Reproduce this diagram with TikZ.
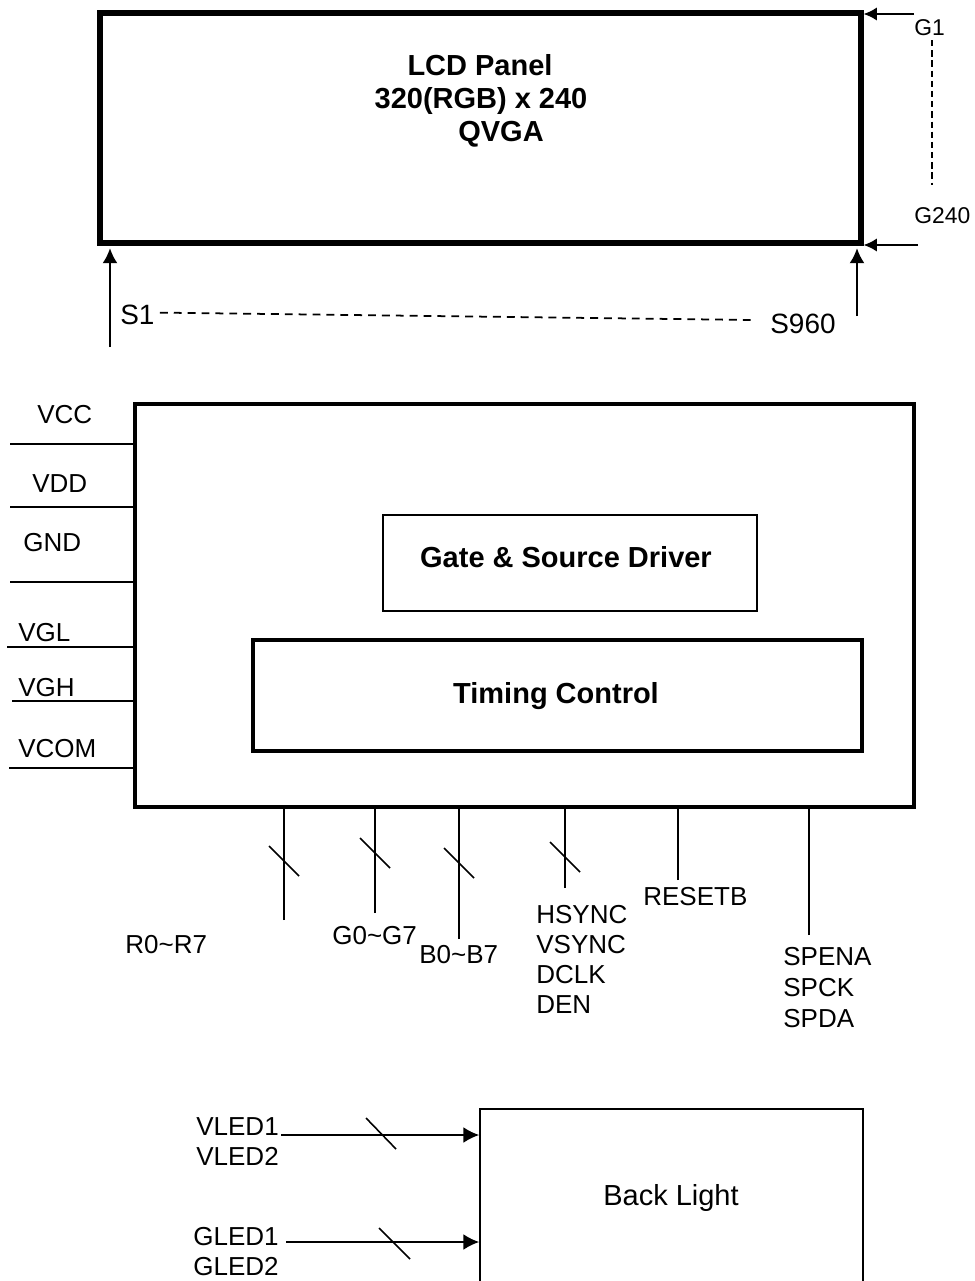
\documentclass[tikz,border=0pt]{standalone}
\usepackage{fontspec}
\setmainfont{Liberation Sans}
\usetikzlibrary{arrows.meta,positioning,fit,calc}

\begin{document}
\begin{tikzpicture}[x=0.02cm,y=-0.02cm,>=Latex,
 lbl/.style={inner sep=0pt,font=\fontsize{14.8}{17}\selectfont},
 slbl/.style={inner sep=0pt,font=\fontsize{15.9}{18}\selectfont},
 glbl/.style={inner sep=0pt,font=\fontsize{13}{15}\selectfont},
 big/.style={inner sep=0pt,font=\fontsize{16.5}{20}\selectfont\bfseries},
 box/.style={draw,inner sep=0pt},
 pin/.style={line width=1.1pt},
 bus/.style={line width=0.9pt},
 dotline/.style={line width=1pt,dash pattern=on 4.5pt off 3.4pt}]
\useasboundingbox (0,0) rectangle (974,1281);

% panel
\node[box,line width=3pt,fit={(100,13) (861,243)}] (lcd) {};
\node[big,anchor=base] (t1) at (480,75) {LCD Panel};
\node[big,anchor=base] (t2) at (481,108) {320(RGB) x 240};
\node[big,anchor=base] (t3) at (501,141) {QVGA};

\node[glbl,anchor=base west] (lg1) at (914,35) {G1};
\node[glbl,anchor=base west] (lg240) at (914,223) {G240};
\coordinate (g1) at (914,14);
\coordinate (g240) at (918,245);
\draw[line width=0.9pt,-{Latex[length=7.5pt,width=7.5pt]}] (g1) -- (g1 -| lcd.east);
\draw[line width=0.9pt,-{Latex[length=7.5pt,width=7.5pt]}] (g240) -- (g240 -| lcd.east);
\coordinate (gtop) at (932,40);
\coordinate (gbot) at (932,185);
\draw[dotline,dash pattern=on 3.6pt off 2.2pt] (gtop) -- (gbot);

\node[slbl,anchor=base west] (ls1) at (120,324) {S1};
\node[slbl,anchor=base west] (ls960) at (770,333) {S960};
\coordinate (s1) at (110,347);
\coordinate (s960) at (857,316);
\draw[line width=0.9pt,-{Latex[length=8.5pt,width=8.5pt]},shorten >=1.5pt] (s1) -- (s1 |- lcd.south);
\draw[line width=0.9pt,-{Latex[length=8.5pt,width=8.5pt]},shorten >=1.5pt] (s960) -- (s960 |- lcd.south);
\draw[dotline] ([yshift=1pt]ls1.east) ++(5,0) -- (753,320);

% driver
\node[box,line width=2.3pt,fit={(135,404) (914,807)}] (drv) {};
\node[box,line width=1.2pt,fit={(383,515) (757,611)}] (gsd) {};
\node[big,anchor=base] at (566,567) {Gate \& Source Driver};
\node[box,line width=2.3pt,fit={(253,640) (862,751)}] (tcon) {};
\node[big,anchor=base] at (556,703) {Timing Control};

\foreach \n/\y/\x/\b/\lx in {VCC/444/10/423/37,VDD/507/10/492/32,GND/582/10/551/23,VGL/647/7/641/18,VGH/701/12/696/18,VCOM/768/9/757/18}{
 \node[lbl,anchor=base west] (l\n) at (\lx,\b) {\n};
 \coordinate (e\n) at (\x,\y);
 \draw[pin] (e\n) -- (e\n -| drv.west);
}

\foreach \n/\x/\e/\s in {R/284/920/861,G/375/913/853,B/459/939/863,H/565/888/857}{
 \coordinate (b\n) at (\x,\e);
 \draw[pin] (b\n) -- (b\n |- drv.south);
 \draw[bus] ([shift={(-15,-15)}]\x,\s) -- ([shift={(15,15)}]\x,\s);
}
\coordinate (bRST) at (678,880);
\draw[pin] (bRST) -- (bRST |- drv.south);
\coordinate (bSP) at (809,935);
\draw[pin] (bSP) -- (bSP |- drv.south);

\node[lbl,anchor=base west] (lR) at (125,953) {R0\textasciitilde R7};
\node[lbl,anchor=base west] (lG) at (332,944) {G0\textasciitilde G7};
\node[lbl,anchor=base west] (lB) at (419,963) {B0\textasciitilde B7};
\foreach \t/\b [count=\i] in {HSYNC/923,VSYNC/953,DCLK/983,DEN/1013}
 \node[lbl,anchor=base west] (lH\i) at (536,\b) {\t};
\node[lbl,anchor=base west] (lRST) at (643,905) {RESETB};
\foreach \t/\b [count=\i] in {SPENA/965,SPCK/996,SPDA/1027}
 \node[lbl,anchor=base west] (lSP\i) at (783,\b) {\t};

% back light
\node[box,line width=0.9pt,fit={(480,1109) (863,1320)}] (bl) {};
\node[inner sep=0pt,font=\fontsize{16.5}{20}\selectfont,anchor=base] at (671,1205) {Back Light};

\node[lbl,anchor=base west] (lV1) at (196,1135) {VLED1};
\node[lbl,anchor=base west] (lV2) at (196,1165) {VLED2};
\node[lbl,anchor=base west] (lG1) at (193,1245) {GLED1};
\node[lbl,anchor=base west] (lG2) at (193,1275) {GLED2};
\coordinate (vled) at (281,1135);
\coordinate (gled) at (286,1242);
\draw[pin,-{Latex[length=9pt,width=9pt]}] (vled) -- (vled -| bl.west);
\draw[pin,-{Latex[length=9pt,width=9pt]}] (gled) -- (gled -| bl.west);
\draw[bus] (366,1118) -- (396,1149);
\draw[bus] (379,1228) -- (410,1259);
\end{tikzpicture}
\end{document}
